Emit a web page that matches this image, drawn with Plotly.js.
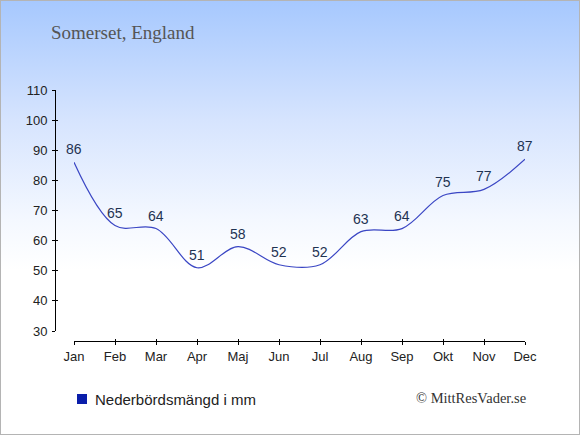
<!DOCTYPE html>
<html>
<head>
<meta charset="utf-8">
<script src="https://cdn.plot.ly/plotly-3.0.1.min.js"></script>
<style>
  html, body { margin: 0; padding: 0; }
  #wrap { position: relative; width: 580px; height: 435px;
          background: linear-gradient(to bottom, #a6c8fe 0px, #d6e4fe 120px, #f4f8ff 220px, #ffffff 270px, #ffffff 435px); }
  #chart { position: absolute; left: 0; top: 0; width: 580px; height: 435px; }
  #frame { position: absolute; left: 0; top: 0; width: 578px; height: 433px;
           border: 1px solid #b4b4b4; pointer-events: none; }
</style>
</head>
<body>
<div id="wrap"><div id="chart"></div><div id="frame"></div></div>
<script>
const months = ["Jan", "Feb", "Mar", "Apr", "Maj", "Jun", "Jul", "Aug", "Sep", "Okt", "Nov", "Dec"];
const precipitation = [86, 65, 64, 51, 58, 52, 52, 63, 64, 75, 77, 87];
const yTicks = [30, 40, 50, 60, 70, 80, 90, 100, 110];
const titleText = "Somerset, England";
const seriesName = "Nederbördsmängd i mm";
const creditText = "© MittResVader.se";

const W = 580, H = 435;
const mL = 55, mR = 55, mT = 90, mB = 94;
const plotW = W - mL - mR, plotH = H - mT - mB;
const xDom = [19 / plotW, 1];
const yDom = [10 / plotH, 1];

const main = {
  x: months, y: precipitation, type: "scatter", mode: "lines",
  line: { color: "#3a46c4", width: 1.2, shape: "spline", smoothing: 1 },
  hoverinfo: "x+y", showlegend: false, cliponaxis: false
};
const tickHelper = {
  x: months, y: precipitation, type: "scatter", mode: "lines",
  xaxis: "x2", yaxis: "y2", line: { width: 0, color: "rgba(0,0,0,0)" },
  hoverinfo: "skip", showlegend: false
};

const sans = "Liberation Sans, Arial, sans-serif";
const serif = "Liberation Serif, Times New Roman, serif";
const axisFont = { family: sans, size: 13, color: "#222" };

const valueLabels = months.map((m, i) => ({
  x: m, y: precipitation[i], xref: "x", yref: "y", text: String(precipitation[i]),
  showarrow: false, xanchor: "center", yanchor: "middle", yshift: 13,
  font: { family: sans, size: 14, color: "#1f3352" }
}));

const legendX = (82 - mL) / plotW, legendY = -58 / plotH;

const layout = {
  width: W, height: H,
  margin: { l: mL, r: mR, t: mT, b: mB, pad: 0 },
  paper_bgcolor: "rgba(0,0,0,0)", plot_bgcolor: "rgba(0,0,0,0)",
  title: { text: titleText, x: 51 / W, xanchor: "left", xref: "container",
           y: 1 - 32 / H, yanchor: "middle", yref: "container",
           font: { family: serif, size: 19, color: "#555" } },
  xaxis: { type: "category", range: [0, 11], domain: xDom, anchor: "free", position: 0,
           showgrid: false, zeroline: false, showline: true, linecolor: "#000", linewidth: 1,
           ticks: "outside", ticklen: 3, tickcolor: "#000", tickfont: axisFont, fixedrange: true },
  yaxis: { range: [30, 110], domain: yDom, anchor: "free", position: 0, tickvals: yTicks,
           showgrid: false, zeroline: false, showline: true, linecolor: "#000", linewidth: 1,
           ticks: "outside", ticklen: 3, tickcolor: "#000", tickfont: axisFont, fixedrange: true,
           ticklabelstandoff: 2 },
  xaxis2: { type: "category", range: [0, 11], domain: xDom, anchor: "free", position: 0,
            overlaying: "x", showgrid: false, zeroline: false, showline: false,
            ticks: "inside", ticklen: 2, tickcolor: "#000", showticklabels: false, fixedrange: true },
  yaxis2: { range: [30, 110], domain: yDom, anchor: "free", position: 0, tickvals: yTicks,
            overlaying: "y", showgrid: false, zeroline: false, showline: false,
            ticks: "inside", ticklen: 2, tickcolor: "#000", showticklabels: false, fixedrange: true },
  showlegend: false,
  shapes: [{
    type: "rect", xref: "paper", yref: "paper", xsizemode: "pixel", ysizemode: "pixel",
    xanchor: legendX, yanchor: legendY, x0: -5, x1: 5, y0: -5, y1: 5,
    fillcolor: "#0a1eaa", line: { width: 0 }
  }],
  annotations: valueLabels.concat([{
    text: seriesName, xref: "paper", yref: "paper", x: (93 - mL) / plotW, xanchor: "left",
    y: legendY, yanchor: "middle", showarrow: false,
    font: { family: sans, size: 15, color: "#222" }
  }, {
    text: creditText, xref: "paper", yref: "paper", x: (528 - mL) / plotW, xanchor: "right",
    y: -57 / plotH, yanchor: "middle", showarrow: false,
    font: { family: serif, size: 14.5, color: "#333" }
  }])
};

Plotly.newPlot("chart", [main, tickHelper], layout, { displayModeBar: false, staticPlot: true });
</script>
</body>
</html>
